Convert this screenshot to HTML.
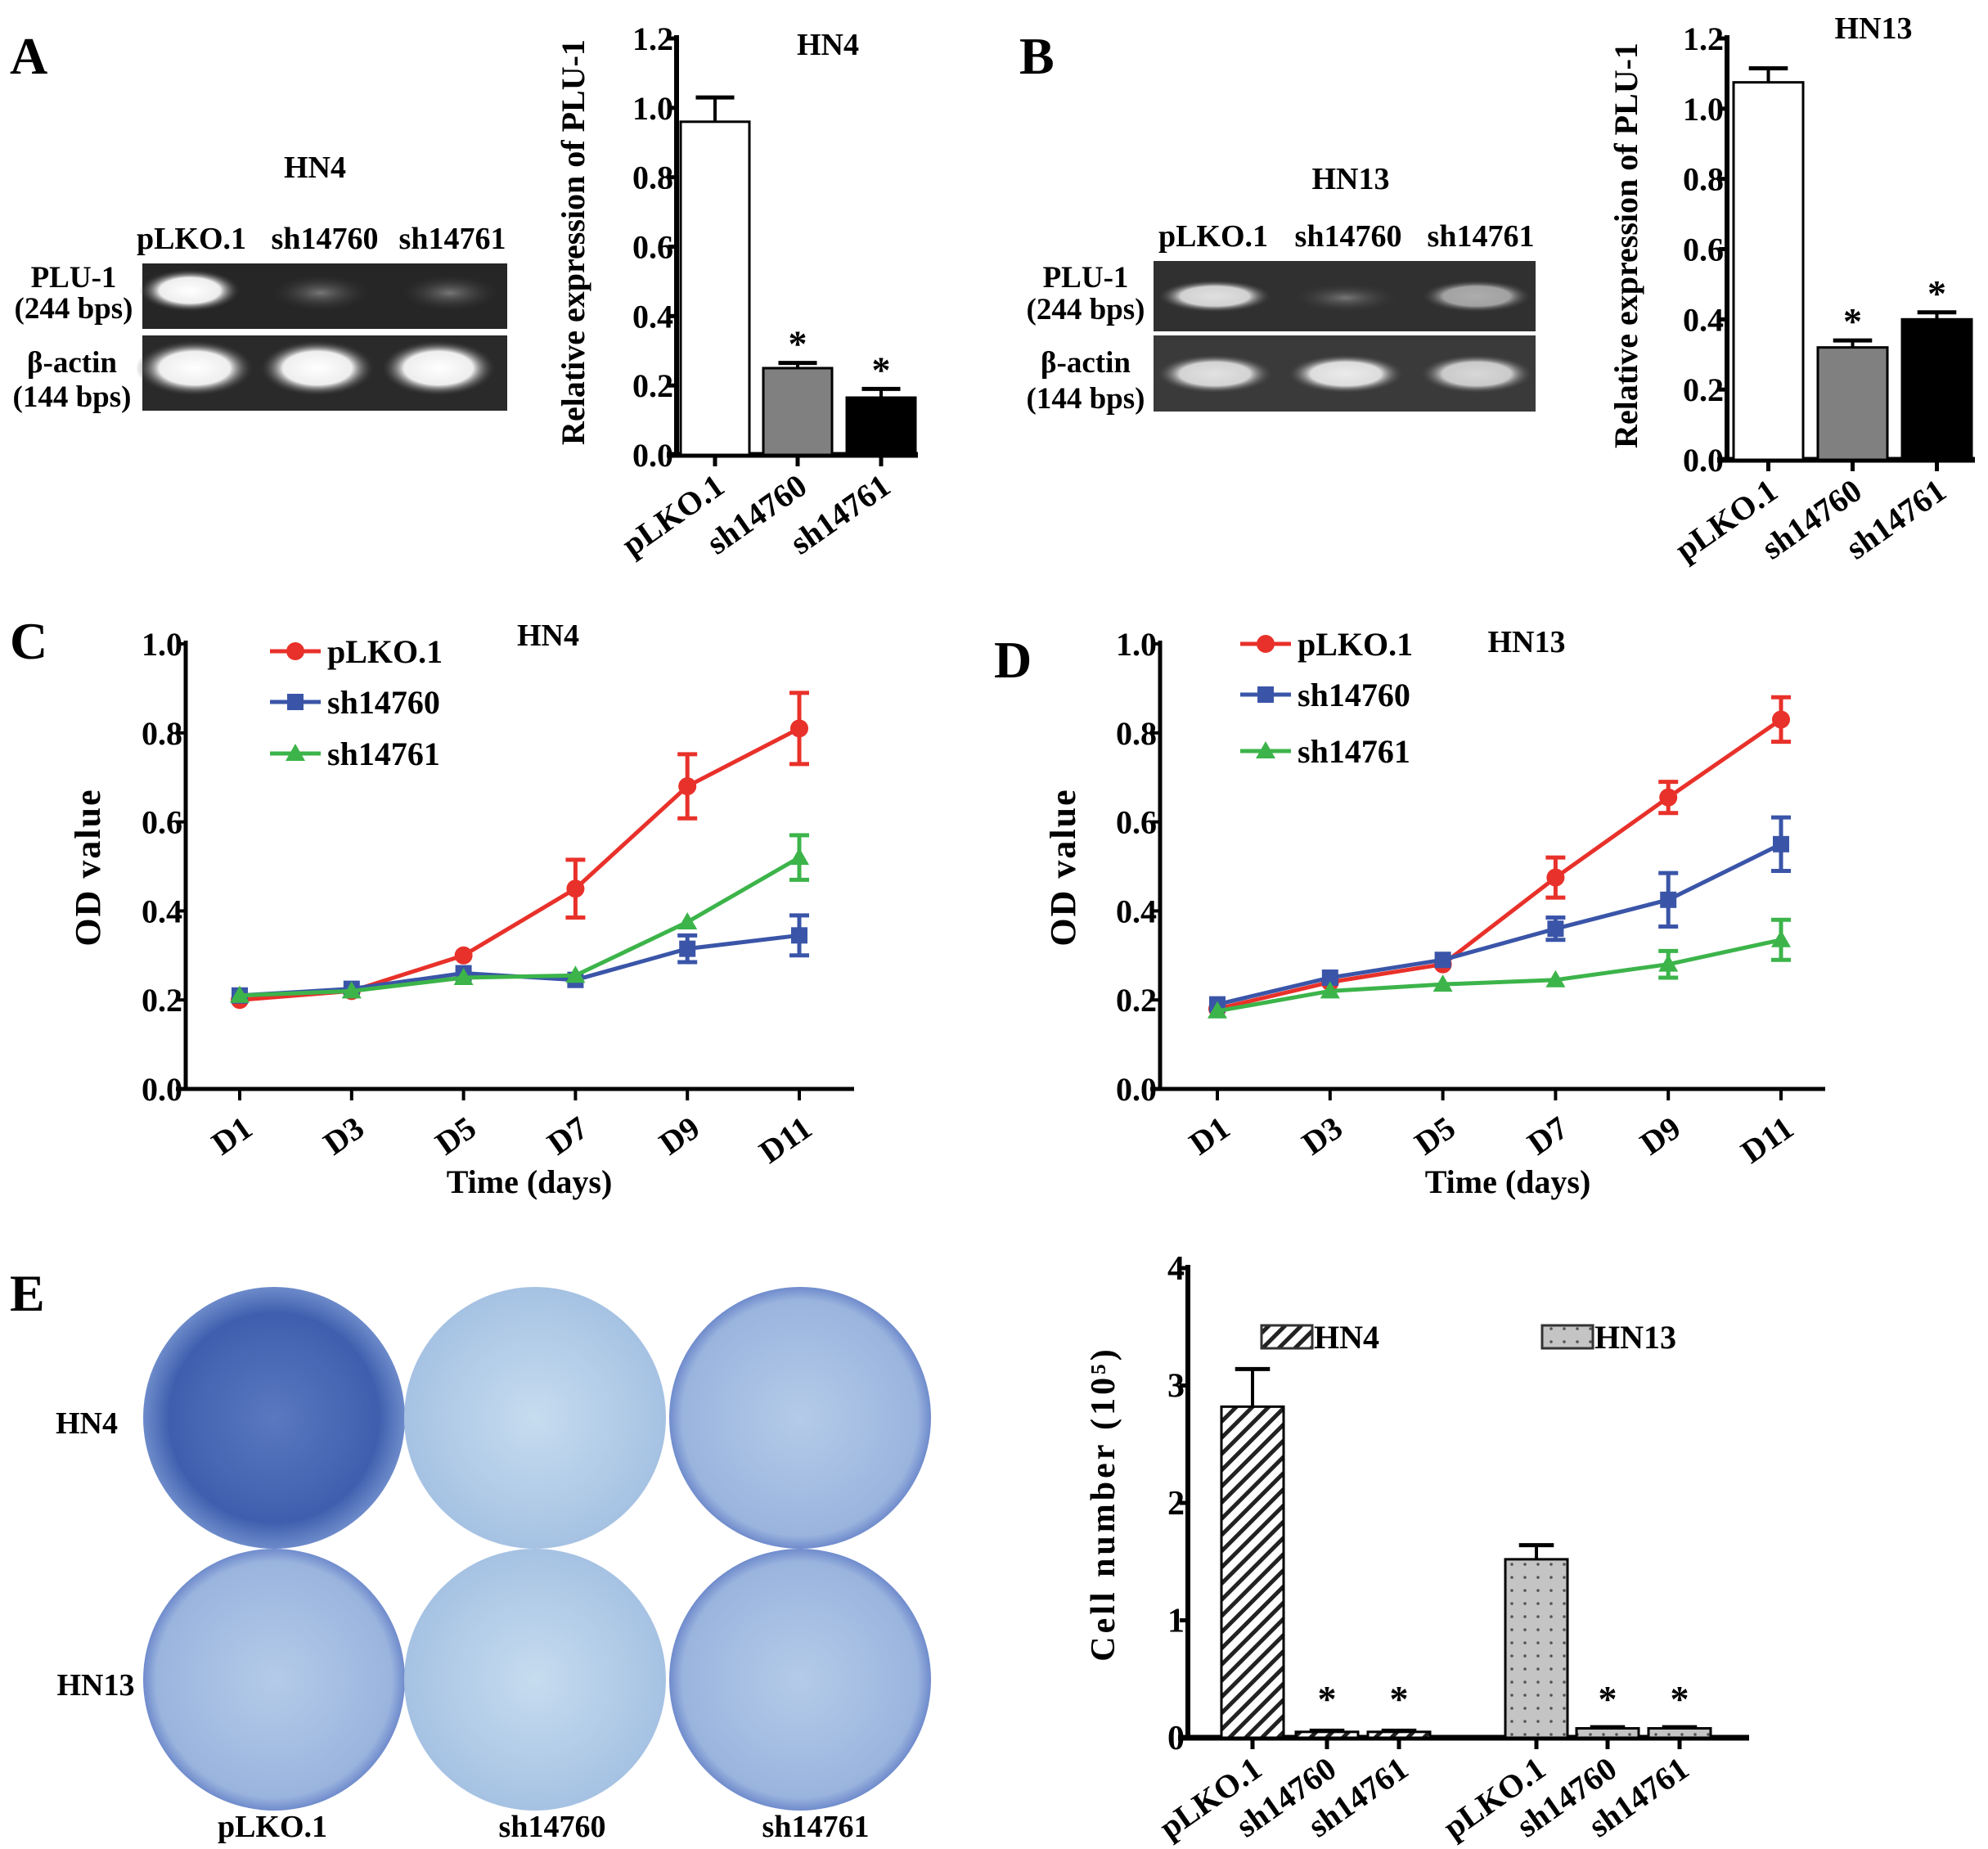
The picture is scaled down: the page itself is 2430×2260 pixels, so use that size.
<!DOCTYPE html>
<html><head><meta charset="utf-8">
<style>
html,body{margin:0;padding:0;background:#fff;}
svg{display:block;font-family:"Liberation Serif",serif;font-weight:bold;}
</style></head>
<body>
<svg id="fig" width="2430" height="2260" viewBox="0 0 2430 2260" xmlns="http://www.w3.org/2000/svg">
<defs>
<pattern id="hatch" width="14" height="14" patternUnits="userSpaceOnUse" patternTransform="rotate(45)">
<rect width="14" height="14" fill="#fff"/><rect width="5" height="14" fill="#222"/></pattern>
<pattern id="dots" width="16" height="16" patternUnits="userSpaceOnUse">
<rect width="16" height="16" fill="#c4c4c4"/><circle cx="8" cy="8" r="1.8" fill="#555"/></pattern>
<radialGradient id="plateDark"><stop offset="0" stop-color="#5a78c0"/><stop offset="0.8" stop-color="#3f5fae"/><stop offset="1" stop-color="#6d8bca"/></radialGradient>
<radialGradient id="plateLight"><stop offset="0" stop-color="#c6dcef"/><stop offset="1" stop-color="#a6c2e3"/></radialGradient>
<radialGradient id="plateMid"><stop offset="0" stop-color="#b4cbe8"/><stop offset="0.9" stop-color="#9ab4de"/><stop offset="1" stop-color="#6f8bcc"/></radialGradient>
<radialGradient id="band"><stop offset="0" stop-color="#fff"/><stop offset="0.6" stop-color="#eee"/><stop offset="1" stop-color="#333" stop-opacity="0"/></radialGradient>
<radialGradient id="faint"><stop offset="0" stop-color="#777"/><stop offset="1" stop-color="#333" stop-opacity="0"/></radialGradient>
</defs>

<text x="12" y="90" font-size="64">A</text>
<text x="1246" y="90" font-size="64">B</text>
<text x="12" y="805" font-size="64">C</text>
<text x="1215" y="828" font-size="64">D</text>
<text x="12" y="1602" font-size="64">E</text>

<g>
<text x="385" y="217" font-size="38" text-anchor="middle">HN4</text>
<text x="234" y="304" font-size="38" text-anchor="middle">pLKO.1</text>
<text x="397" y="304" font-size="38" text-anchor="middle">sh14760</text>
<text x="553" y="304" font-size="38" text-anchor="middle">sh14761</text>
<rect x="174" y="322" width="446" height="80" fill="#262626"/>
<ellipse cx="232" cy="355" rx="62" ry="26" fill="url(#band)"/>
<ellipse cx="392" cy="358" rx="60" ry="22" fill="url(#faint)"/>
<ellipse cx="550" cy="358" rx="60" ry="22" fill="url(#faint)"/>
<rect x="174" y="410" width="446" height="92" fill="#2a2a2a"/>
<ellipse cx="238" cy="450" rx="72" ry="34" fill="url(#band)"/>
<ellipse cx="388" cy="450" rx="70" ry="34" fill="url(#band)"/>
<ellipse cx="536" cy="450" rx="70" ry="34" fill="url(#band)"/>
<text x="90" y="351" font-size="37" text-anchor="middle">PLU-1</text>
<text x="90" y="389" font-size="37" text-anchor="middle">(244 bps)</text>
<text x="88" y="455" font-size="37" text-anchor="middle">β-actin</text>
<text x="88" y="497" font-size="37" text-anchor="middle">(144 bps)</text>
</g>

<g>
<text x="1651" y="231" font-size="38" text-anchor="middle">HN13</text>
<text x="1483" y="301" font-size="38" text-anchor="middle">pLKO.1</text>
<text x="1648" y="301" font-size="38" text-anchor="middle">sh14760</text>
<text x="1810" y="301" font-size="38" text-anchor="middle">sh14761</text>
<rect x="1410" y="319" width="467" height="86" fill="#303030"/>
<ellipse cx="1485" cy="362" rx="70" ry="20" fill="url(#band)" opacity="0.85"/>
<ellipse cx="1645" cy="364" rx="66" ry="18" fill="url(#faint)"/>
<ellipse cx="1805" cy="362" rx="68" ry="20" fill="url(#band)" opacity="0.6"/>
<rect x="1410" y="410" width="467" height="93" fill="#3a3a3a"/>
<ellipse cx="1485" cy="457" rx="72" ry="24" fill="url(#band)" opacity="0.85"/>
<ellipse cx="1645" cy="457" rx="72" ry="24" fill="url(#band)" opacity="0.9"/>
<ellipse cx="1805" cy="457" rx="70" ry="24" fill="url(#band)" opacity="0.8"/>
<text x="1327" y="351" font-size="37" text-anchor="middle">PLU-1</text>
<text x="1327" y="390" font-size="37" text-anchor="middle">(244 bps)</text>
<text x="1327" y="455" font-size="37" text-anchor="middle">β-actin</text>
<text x="1327" y="499" font-size="37" text-anchor="middle">(144 bps)</text>
</g>

<g>
<circle cx="335" cy="1733" r="160" fill="url(#plateDark)"/>
<circle cx="654" cy="1733" r="160" fill="url(#plateLight)"/>
<circle cx="978" cy="1733" r="160" fill="url(#plateMid)"/>
<circle cx="335" cy="2053" r="160" fill="url(#plateMid)"/>
<circle cx="654" cy="2053" r="160" fill="url(#plateLight)"/>
<circle cx="978" cy="2053" r="160" fill="url(#plateMid)"/>
<text x="106" y="1752" font-size="38" text-anchor="middle">HN4</text>
<text x="117" y="2072" font-size="38" text-anchor="middle">HN13</text>
<text x="333" y="2245" font-size="38" text-anchor="middle">pLKO.1</text>
<text x="675" y="2245" font-size="38" text-anchor="middle">sh14760</text>
<text x="997" y="2245" font-size="38" text-anchor="middle">sh14761</text>
</g>
<g id="dyn"></g>
</svg>
<script>
// ---- data ----
const barCats = ['pLKO.1','sh14760','sh14761'];
const aVals = [0.96, 0.25, 0.165];
const aErrs = [0.07, 0.015, 0.025];
const bVals = [1.075, 0.32, 0.40];
const bErrs = [0.04, 0.02, 0.02];
const barTicks = [0,0.2,0.4,0.6,0.8,1.0,1.2];
const days = ['D1','D3','D5','D7','D9','D11'];
const odTicks = [0,0.2,0.4,0.6,0.8,1.0];
const cPLKO = [0.20,0.22,0.30,0.45,0.68,0.81];
const cPLKOerr = [0,0,0,0.065,0.072,0.08];
const c60 = [0.21,0.225,0.26,0.245,0.315,0.345];
const c60err = [0,0,0,0,0.03,0.045];
const c61 = [0.21,0.22,0.25,0.255,0.375,0.52];
const c61err = [0,0,0,0,0,0.05];
const dPLKO = [0.18,0.24,0.28,0.475,0.655,0.83];
const dPLKOerr = [0,0,0,0.045,0.035,0.05];
const d60 = [0.19,0.25,0.29,0.36,0.425,0.55];
const d60err = [0,0,0,0.025,0.06,0.06];
const d61 = [0.175,0.22,0.235,0.245,0.28,0.335];
const d61err = [0,0,0,0,0.03,0.045];
const eCats = ['pLKO.1','sh14760','sh14761','pLKO.1','sh14760','sh14761'];
const eVals = [2.82,0.05,0.05,1.52,0.08,0.08];
const eErrs = [0.32,0.01,0.01,0.12,0.01,0.01];
const eTicks = [0,1,2,3,4];

const NS='http://www.w3.org/2000/svg';
const root=document.getElementById('dyn');
function mk(tag,attrs,parent,txt){const e=document.createElementNS(NS,tag);for(const k in attrs)e.setAttribute(k,attrs[k]);if(txt!==undefined)e.textContent=txt;(parent||root).appendChild(e);return e;}

function barChart(o){
  const g=mk('g',{});
  
  
  const y=v=>o.y0-(v/o.ymax)*(o.y0-o.ytop);
  const ax=mk('line',{x1:o.ax,y1:o.ytop-4,x2:o.ax,y2:o.y0,stroke:'#000','stroke-width':6},g);
  
  
  const xa=mk('line',{x1:o.ax-12,y1:o.y0,x2:o.xend,y2:o.y0,stroke:'#000','stroke-width':7},g);
  
  
  o.ticks.forEach(t=>{
    const l=mk('line',{x1:o.ax-10,y1:y(t),x2:o.ax,y2:y(t),stroke:'#000','stroke-width':5},g);
    
    
    const tx=mk('text',{x:o.ax-4,y:y(t)+14,'font-size':o.fs,'text-anchor':'end'},g,o.fmt(t));
    
    
  });
  o.vals.forEach((v,i)=>{
    const x=o.bx[i], w=o.bw, cx=x+w/2;
    const eb=mk('line',{x1:cx,y1:y(v),x2:cx,y2:y(v+o.errs[i]),stroke:'#000','stroke-width':4},g);
    
    
    const cap=mk('line',{x1:cx-w*0.28,y1:y(v+o.errs[i]),x2:cx+w*0.28,y2:y(v+o.errs[i]),stroke:'#000','stroke-width':5},g);
    
    
    const r=mk('rect',{x:x,y:y(v),width:w,height:o.y0-y(v),fill:o.fills[i],stroke:'#000','stroke-width':3},g);
    
    
    const tk=mk('line',{x1:cx,y1:o.y0,x2:cx,y2:o.y0+14,stroke:'#000','stroke-width':5},g);
    
    
    const lb=mk('text',{x:cx+14,y:o.y0+44,'font-size':o.cfs,'text-anchor':'end',transform:`rotate(-35 ${cx+14} ${o.y0+44})`},g,o.cats[i]);
    
    
    if(o.stars[i]){
      const s=mk('text',{x:cx,y:o.starY?o.starY:y(v+o.errs[i])-8,'font-size':46,'text-anchor':'middle'},g,'*');
      
      
    }
  });
  const yl=mk('text',{x:o.ylx,y:o.yly,'font-size':o.yfs,'letter-spacing':o.ls||0,'text-anchor':'middle',transform:`rotate(-90 ${o.ylx} ${o.yly})`},g,o.ylabel);
  
  
  if(o.title){const t=mk('text',{x:o.tx,y:o.ty,'font-size':38,'text-anchor':'middle'},g,o.title);
    
    }
  return {g,y};
}
const f1=t=>t.toFixed(1);
barChart({name:'chart-a',ax:827,y0:556,ytop:47,ymax:1.2,xend:1122,ticks:barTicks,fmt:f1,fs:40,cfs:40,vals:aVals,errs:aErrs,cats:barCats,bx:[832,933,1035],bw:84,fills:['#fff','#808080','#000'],stars:[0,1,1],ylabel:'Relative expression of PLU-1',ylx:714,yly:296,yfs:40,title:'HN4',tx:1012,ty:67});
barChart({name:'chart-b',ax:2111,y0:562,ytop:47,ymax:1.2,xend:2414,ticks:barTicks,fmt:f1,fs:40,cfs:40,vals:bVals,errs:bErrs,cats:barCats,bx:[2119,2222,2325],bw:85,fills:['#fff','#808080','#000'],stars:[0,1,1],ylabel:'Relative expression of PLU-1',ylx:2001,yly:300,yfs:40,title:'HN13',tx:2290,ty:47});
barChart({name:'chart-e',ax:1452,y0:2124,ytop:1550,ymax:4,xend:2138,ticks:eTicks,fmt:t=>String(t),fs:42,cfs:40,vals:eVals,errs:eErrs,cats:eCats,bx:[1493,1584,1672,1840,1927,2015],bw:76,fills:['url(#hatch)','url(#hatch)','url(#hatch)','url(#dots)','url(#dots)','url(#dots)'],stars:[0,1,1,0,1,1],starY:2092,ylabel:'Cell number (10⁵)',ylx:1362,yly:1838,yfs:42,ls:4});
[['url(#hatch)','HN4',1542],['url(#dots)','HN13',1885]].forEach(([f,t,x])=>{
  const r=mk('rect',{x:x,y:1620,width:62,height:28,fill:f,stroke:'#333','stroke-width':3});
  
  
  const tx=mk('text',{x:x+64,y:1648,'font-size':40},null,t);
  
  
});

function lineChart(o){
  const g=mk('g',{});
  
  
  const y=v=>o.y0-(v/1.0)*(o.y0-o.ytop);
  const x=i=>o.x0+i*(o.x1-o.x0)/(days.length-1);
  const ax=mk('line',{x1:o.ax,y1:o.ytop-4,x2:o.ax,y2:o.y0,stroke:'#000','stroke-width':5},g);
  
  
  const xa=mk('line',{x1:o.ax-12,y1:o.y0,x2:o.xend,y2:o.y0,stroke:'#000','stroke-width':5},g);
  
  
  odTicks.forEach(t=>{
    const l=mk('line',{x1:o.ax-10,y1:y(t),x2:o.ax,y2:y(t),stroke:'#000','stroke-width':4},g);
    
    
    const tx=mk('text',{x:o.ax-4,y:y(t)+14,'font-size':40,'text-anchor':'end'},g,t.toFixed(1));
    
    
  });
  days.forEach((d,i)=>{
    const tk=mk('line',{x1:x(i),y1:o.y0,x2:x(i),y2:o.y0+14,stroke:'#000','stroke-width':4},g);
    
    
    const lb=mk('text',{x:x(i)+18,y:o.y0+54,'font-size':40,'text-anchor':'end',transform:`rotate(-35 ${x(i)+18} ${o.y0+54})`},g,d);
    
    
  });
  o.series.forEach(s=>{
    const pts=s.v.map((v,i)=>x(i)+','+y(v)).join(' ');
    const pl=mk('polyline',{points:pts,fill:'none',stroke:s.c,'stroke-width':5},g);
    
    
    s.v.forEach((v,i)=>{
      if(s.e[i]>0){
        const eb=mk('path',{d:`M${x(i)},${y(v-s.e[i])}V${y(v+s.e[i])}M${x(i)-12},${y(v-s.e[i])}h24M${x(i)-12},${y(v+s.e[i])}h24`,stroke:s.c,'stroke-width':5,fill:'none'},g);
        
        
      }
      let m;
      if(s.m==='c') m=mk('circle',{cx:x(i),cy:y(v),r:11,fill:s.c},g);
      else if(s.m==='s') m=mk('rect',{x:x(i)-10,y:y(v)-10,width:20,height:20,fill:s.c},g);
      else m=mk('polygon',{points:`${x(i)},${y(v)-12} ${x(i)-12},${y(v)+9} ${x(i)+12},${y(v)+9}`,fill:s.c},g);
      
      
    });
  });
  o.series.forEach((s,k)=>{
    const ly=o.ly[k];
    const l=mk('line',{x1:o.lx,y1:ly,x2:o.lx+62,y2:ly,stroke:s.c,'stroke-width':5},g);
    
    
    let m;
    const cx=o.lx+31;
    if(s.m==='c') m=mk('circle',{cx:cx,cy:ly,r:11,fill:s.c},g);
    else if(s.m==='s') m=mk('rect',{x:cx-10,y:ly-10,width:20,height:20,fill:s.c},g);
    else m=mk('polygon',{points:`${cx},${ly-12} ${cx-12},${ly+9} ${cx+12},${ly+9}`,fill:s.c},g);
    
    
    const t=mk('text',{x:o.lx+70,y:ly+14,'font-size':40},g,s.label);
    
    
  });
  const tt=mk('text',{x:o.tx,y:o.ty,'font-size':38,'text-anchor':'middle'},g,o.title);
  
  
  const yl=mk('text',{x:o.ylx,y:1060,'font-size':44,'letter-spacing':2,'text-anchor':'middle',transform:`rotate(-90 ${o.ylx} 1060)`},g,'OD value');
  
  
  const xl=mk('text',{x:o.xlx,y:1458,'font-size':40,'text-anchor':'middle'},g,'Time (days)');
  
  
}
const RED='#e8312a',BLUE='#3a55a8',GREEN='#3cb44a';
lineChart({name:'chart-c',ax:227,y0:1331,ytop:787,xend:1044,x0:293,x1:977,lx:330,ly:[796,858,921],tx:670,ty:789,title:'HN4',ylx:122,xlx:647,
 series:[{n:'pLKO1',label:'pLKO.1',c:RED,m:'c',v:cPLKO,e:cPLKOerr},{n:'sh14760',label:'sh14760',c:BLUE,m:'s',v:c60,e:c60err},{n:'sh14761',label:'sh14761',c:GREEN,m:'t',v:c61,e:c61err}]});
lineChart({name:'chart-d',ax:1418,y0:1331,ytop:787,xend:2231,x0:1488,x1:2177,lx:1516,ly:[787,849,918],tx:1866,ty:797,title:'HN13',ylx:1314,xlx:1843,
 series:[{n:'pLKO1',label:'pLKO.1',c:RED,m:'c',v:dPLKO,e:dPLKOerr},{n:'sh14760',label:'sh14760',c:BLUE,m:'s',v:d60,e:d60err},{n:'sh14761',label:'sh14761',c:GREEN,m:'t',v:d61,e:d61err}]});
</script>
</body></html>
